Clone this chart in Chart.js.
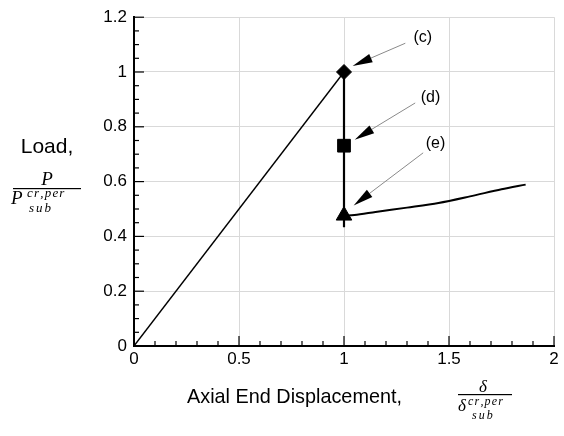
<!DOCTYPE html>
<html>
<head>
<meta charset="utf-8">
<script src="https://cdn.jsdelivr.net/npm/chart.js@4.4.1/dist/chart.umd.min.js"></script>
<style>
html, body { margin: 0; padding: 0; background: #fff; }
#wrap { width: 564px; height: 436px; }
</style>
</head>
<body>
<div id="wrap"><canvas id="chart" width="564" height="436"></canvas></div>
<script>
"use strict";

// ---- data ----
var X_TICKS = [0, 0.5, 1, 1.5, 2];
var Y_TICKS = [0, 0.2, 0.4, 0.6, 0.8, 1, 1.2];
var X_MINOR = 0.1;
var Y_MINOR = 0.05;

var preX = [0, 1];
var preY = [0, 1];
var dropX = [1, 1];
var dropY = [1, 0.433];
var postX = [1, 1.05, 1.15, 1.3, 1.45, 1.6, 1.75, 1.865];
var postY = [0.476, 0.478, 0.489, 0.505, 0.522, 0.546, 0.572, 0.589];

var stateNames = ["(c)", "(d)", "(e)"];
var stateX = [1, 1, 1];
var stateY = [1, 0.731, 0.476];

// arrow callouts, in data units: tip, tail, label centre
var CALLOUTS = [
  { tip: [1.041, 1.022], tail: [1.292, 1.105], text: [1.375, 1.124] },
  { tip: [1.051, 0.753], tail: [1.339, 0.887], text: [1.412, 0.905] },
  { tip: [1.046, 0.513], tail: [1.377, 0.705], text: [1.436, 0.738] }
];

var SANS = "'Liberation Sans', Arial, sans-serif";
var SERIF = "'Liberation Serif', 'Times New Roman', serif";

function pts(xs, ys) {
  return xs.map(function(x, i) { return { x: x, y: ys[i] }; });
}

function isMajor(v, list) {
  return list.some(function(t) { return Math.abs(t - v) < 1e-6; });
}

function drawArrow(ctx, x0, y0, x1, y1) {
  var ang = Math.atan2(y1 - y0, x1 - x0);
  var len = 20, hw = 4.5;
  var bx = x1 - Math.cos(ang) * len, by = y1 - Math.sin(ang) * len;
  ctx.strokeStyle = "#8a8a8a";
  ctx.lineWidth = 1;
  ctx.beginPath();
  ctx.moveTo(x0, y0);
  ctx.lineTo(bx, by);
  ctx.stroke();
  ctx.fillStyle = "#000";
  ctx.beginPath();
  ctx.moveTo(x1, y1);
  ctx.lineTo(bx - Math.sin(ang) * hw, by + Math.cos(ang) * hw);
  ctx.lineTo(bx + Math.sin(ang) * hw, by - Math.cos(ang) * hw);
  ctx.closePath();
  ctx.fill();
}

function spaced(ctx, s, x, y, gap) {
  for (var i = 0; i < s.length; i++) {
    ctx.fillText(s[i], x, y);
    x += ctx.measureText(s[i]).width + gap;
  }
}

var decor = {
  id: "decor",
  afterDraw: function(chart) {
    var ctx = chart.ctx, a = chart.chartArea;
    var xs = chart.scales.x, ys = chart.scales.y;
    var i, v, p;
    ctx.save();

    // inward tick marks on left and bottom axes
    ctx.strokeStyle = "#000";
    ctx.lineWidth = 1.2;
    for (i = 0; i <= Math.round(2 / X_MINOR); i++) {
      v = i * X_MINOR;
      p = xs.getPixelForValue(v);
      ctx.beginPath();
      ctx.moveTo(p, a.bottom);
      ctx.lineTo(p, a.bottom - (isMajor(v, X_TICKS) ? 10 : 5));
      ctx.stroke();
    }
    for (i = 0; i <= Math.round(1.2 / Y_MINOR); i++) {
      v = i * Y_MINOR;
      p = ys.getPixelForValue(v);
      ctx.beginPath();
      ctx.moveTo(a.left, p);
      ctx.lineTo(a.left + (isMajor(v, Y_TICKS) ? 10 : 5), p);
      ctx.stroke();
    }

    // callouts
    ctx.font = "16px " + SANS;
    ctx.textAlign = "center";
    ctx.textBaseline = "middle";
    CALLOUTS.forEach(function(c, k) {
      drawArrow(ctx,
        xs.getPixelForValue(c.tail[0]), ys.getPixelForValue(c.tail[1]),
        xs.getPixelForValue(c.tip[0]), ys.getPixelForValue(c.tip[1]));
      ctx.fillStyle = "#000";
      ctx.fillText(stateNames[k], xs.getPixelForValue(c.text[0]), ys.getPixelForValue(c.text[1]));
    });

    // y axis title
    ctx.fillStyle = "#000";
    ctx.textBaseline = "alphabetic";
    ctx.textAlign = "center";
    ctx.font = "21px " + SANS;
    ctx.fillText("Load,", 47, 153);
    ctx.font = "italic 19px " + SERIF;
    ctx.fillText("P", 47, 185);
    ctx.fillRect(13, 188, 68, 1.2);
    ctx.textAlign = "left";
    ctx.fillText("P", 11, 204);
    ctx.font = "italic 13px " + SERIF;
    spaced(ctx, "cr,per", 27, 197, 1.2);
    spaced(ctx, "sub", 29, 212, 2);

    // x axis title
    ctx.font = "21px " + SANS;
    ctx.fillText("Axial End Displacement,", 187, 403, 215);
    ctx.textAlign = "center";
    ctx.font = "italic 17px " + SERIF;
    ctx.fillText("\u03b4", 483, 392);
    ctx.fillRect(458, 394, 54, 1.2);
    ctx.textAlign = "left";
    ctx.fillText("\u03b4", 458, 411);
    ctx.font = "italic 12px " + SERIF;
    spaced(ctx, "cr,per", 468, 405, 1.2);
    spaced(ctx, "sub", 472, 419, 2);

    ctx.restore();
  }
};

var ctxMain = document.getElementById("chart");
new Chart(ctxMain, {
  type: "scatter",
  data: {
    datasets: [
      { data: pts(preX, preY), showLine: true, borderColor: "#000", borderWidth: 1.4, pointRadius: 0 },
      { data: pts(dropX, dropY), showLine: true, borderColor: "#000", borderWidth: 2.2, pointRadius: 0 },
      { data: pts(postX, postY), showLine: true, borderColor: "#000", borderWidth: 2, pointRadius: 0, tension: 0.3 },
      {
        data: pts(stateX, stateY), showLine: false,
        pointStyle: ["rectRot", "rect", "triangle"],
        pointRadius: [7.5, 9, 9],
        backgroundColor: "#000", borderColor: "#000", borderWidth: 1
      }
    ]
  },
  options: {
    responsive: false, animation: false,
    layout: { padding: { left: 94, right: 6, top: 16, bottom: 60 } },
    plugins: { legend: { display: false }, tooltip: { enabled: false } },
    scales: {
      x: {
        type: "linear", min: 0, max: 2,
        afterBuildTicks: function(s) { s.ticks = X_TICKS.map(function(v) { return { value: v }; }); },
        afterFit: function(s) { s.height = 30; },
        grid: { color: "#d9d9d9", lineWidth: 1, drawTicks: false },
        border: { color: "#000", width: 2 },
        ticks: { padding: 3, color: "#000", font: { size: 17, family: SANS }, maxRotation: 0,
          callback: function(v) { return String(v); } }
      },
      y: {
        type: "linear", min: 0, max: 1.2,
        afterBuildTicks: function(s) { s.ticks = Y_TICKS.map(function(v) { return { value: v }; }); },
        afterFit: function(s) { s.width = 40; },
        grid: { color: "#d9d9d9", lineWidth: 1, drawTicks: false },
        border: { color: "#000", width: 2 },
        ticks: { padding: 7, color: "#000", font: { size: 17, family: SANS },
          callback: function(v) { return String(v); } }
      }
    }
  },
  plugins: [decor]
});
</script>
</body>
</html>
